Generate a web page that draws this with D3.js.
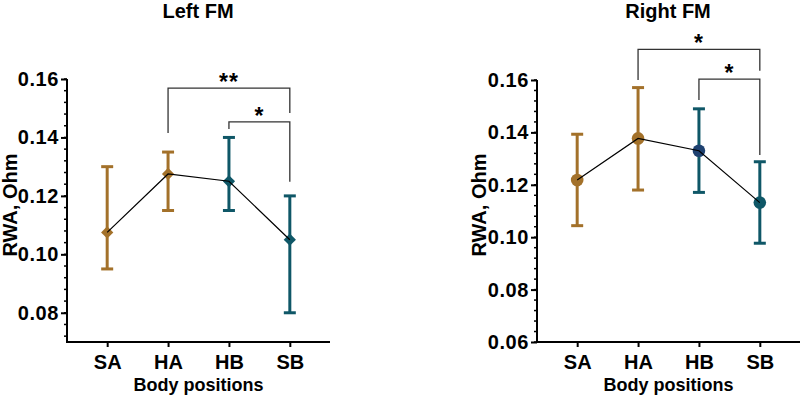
<!DOCTYPE html>
<html>
<head>
<meta charset="utf-8">
<script src="https://cdnjs.cloudflare.com/ajax/libs/d3/7.8.5/d3.min.js"></script>
<style>
  body { margin: 0; background: #fff; }
  svg text { font-family: "Liberation Sans", Arial, sans-serif; font-weight: bold; fill: #000; }
</style>
</head>
<body>
<div id="chart"></div>
<script>
// categories and values
const positions = ["SA", "HA", "HB", "SB"];

const leftMean  = [0.1075, 0.1275, 0.125, 0.105];
const leftUpper = [0.130, 0.135, 0.140, 0.120];
const leftLower = [0.095, 0.115, 0.115, 0.080];

const rightMean  = [0.1218, 0.1377, 0.133, 0.1132];
const rightUpper = [0.1393, 0.1571, 0.149, 0.1288];
const rightLower = [0.1044, 0.118, 0.1171, 0.0977];

const leftTicks  = [0.08, 0.10, 0.12, 0.14, 0.16];
const rightTicks = [0.06, 0.08, 0.10, 0.12, 0.14, 0.16];

// significance brackets: y levels in data units
const leftBrackets = [
  { from: "HA", to: "SB", y: 0.1569, footFrom: 0.1415, footTo: 0.1484, label: "**" },
  { from: "HB", to: "SB", y: 0.1453, footFrom: 0.1429, footTo: 0.1248, label: "*" }
];
const rightBrackets = [
  { from: "HA", to: "SB", y: 0.1717, footFrom: 0.160, footTo: 0.1635, label: "*" },
  { from: "HB", to: "SB", y: 0.1603, footFrom: 0.1524, footTo: 0.1314, label: "*" }
];

const gold = "#A3712A", teal = "#0F5767", navy = "#1E4170";
const barColors = [gold, gold, teal, teal];
const leftMarkColors = [gold, gold, teal, teal];
const rightMarkColors = [gold, gold, navy, teal];

const W = 800, H = 396;
const svg = d3.select("#chart").append("svg")
    .attr("width", W).attr("height", H);

function panel(opt) {
    const x = d3.scalePoint().domain(positions)
        .range([opt.x0, opt.x1]).padding(0.66);
    const y = d3.scaleLinear().domain(opt.domain).range([342, opt.top]);
    const g = svg.append("g");

    // title
    g.append("text")
        .attr("x", opt.titleX).attr("y", 18)
        .attr("text-anchor", "middle")
        .style("font-size", "20px")
        .text(opt.title);

    // minor ticks
    const minor = d3.range(Math.round(opt.domain[0] / 0.004), Math.round(opt.domain[1] / 0.004) + 1)
        .map(k => k * 0.004)
        .filter(v => v >= opt.domain[0] - 1e-9);
    g.selectAll(".minor").data(minor).enter().append("line")
        .attr("x1", opt.x0 - 3).attr("x2", opt.x0)
        .attr("y1", d => y(d)).attr("y2", d => y(d))
        .attr("stroke", "#000").attr("stroke-width", 1.5);

    // y axis
    const ya = g.append("g")
        .attr("transform", "translate(" + opt.x0 + ",0)")
        .call(d3.axisLeft(y).tickValues(opt.ticks).tickFormat(d3.format(".2f")).tickSize(6).tickPadding(2));
    ya.select(".domain").attr("stroke", "#000").attr("stroke-width", 2)
        .attr("d", "M0," + y(opt.domain[0]) + "V" + y(opt.domain[1]));
    ya.selectAll(".tick line").attr("stroke-width", 2);
    ya.selectAll(".tick text").style("font-size", "20px").style("letter-spacing", "0.6px")
        .style("font-family", "'Liberation Sans', Arial, sans-serif").style("font-weight", "bold");

    // x axis
    const xa = g.append("g")
        .attr("transform", "translate(0,342)")
        .call(d3.axisBottom(x).tickSize(5).tickPadding(8));
    xa.select(".domain").attr("stroke", "#000").attr("stroke-width", 2)
        .attr("d", "M" + (opt.x0 - 1) + ",0H" + opt.x1);
    xa.selectAll(".tick line").attr("stroke-width", 2);
    xa.selectAll(".tick text").style("font-size", "20px")
        .style("font-family", "'Liberation Sans', Arial, sans-serif").style("font-weight", "bold");

    // axis titles
    g.append("text")
        .attr("x", (opt.x0 + opt.x1) / 2).attr("y", 391)
        .attr("text-anchor", "middle")
        .style("font-size", "18px")
        .text("Body positions");
    g.append("text")
        .attr("transform", "translate(" + opt.ylabX + ",205) rotate(-90)")
        .attr("text-anchor", "middle")
        .style("font-size", "20px")
        .text("RWA, Ohm");

    // error bars
    const rows = positions.map((p, i) => ({ p, m: opt.mean[i], hi: opt.upper[i], lo: opt.lower[i], c: barColors[i], mc: opt.markColors[i] }));
    const eb = g.selectAll(".eb").data(rows).enter().append("g")
        .attr("stroke", d => d.c).attr("stroke-width", 3);
    eb.append("line")
        .attr("x1", d => x(d.p)).attr("x2", d => x(d.p))
        .attr("y1", d => y(d.hi)).attr("y2", d => y(d.lo));
    eb.append("line")
        .attr("x1", d => x(d.p) - 6).attr("x2", d => x(d.p) + 6)
        .attr("y1", d => y(d.hi)).attr("y2", d => y(d.hi));
    eb.append("line")
        .attr("x1", d => x(d.p) - 6).attr("x2", d => x(d.p) + 6)
        .attr("y1", d => y(d.lo)).attr("y2", d => y(d.lo));

    // markers
    const sym = d3.symbol().type(opt.shape).size(opt.shape === d3.symbolCircle ? 125 : 75);
    g.selectAll(".mk").data(rows).enter().append("path")
        .attr("d", sym)
        .attr("transform", d => "translate(" + x(d.p) + "," + y(d.m) + ")" + (opt.shape === d3.symbolSquare ? " rotate(45)" : ""))
        .attr("fill", d => d.mc);

    // connecting line
    g.append("path").datum(rows)
        .attr("d", d3.line().x(d => x(d.p)).y(d => y(d.m)))
        .attr("fill", "none").attr("stroke", "#000").attr("stroke-width", 1.2);

    // brackets
    opt.brackets.forEach(b => {
        g.append("path")
            .attr("d", "M" + x(b.from) + "," + y(b.footFrom) + "V" + y(b.y) + "H" + x(b.to) + "V" + y(b.footTo))
            .attr("fill", "none").attr("stroke", "#333").attr("stroke-width", 1.3);
        g.append("text")
            .attr("x", (x(b.from) + x(b.to)) / 2).attr("y", y(b.y) + 2)
            .attr("text-anchor", "middle")
            .style("font-size", "23px")
            .style("letter-spacing", "1px")
            .text(b.label);
    });
}

panel({
    title: "Left FM", titleX: 198, x0: 67, x1: 330, top: 79, ylabX: 17,
    domain: [0.07, 0.16], ticks: leftTicks,
    mean: leftMean, upper: leftUpper, lower: leftLower,
    markColors: leftMarkColors, shape: d3.symbolSquare, brackets: leftBrackets
});
panel({
    title: "Right FM", titleX: 668, x0: 537, x1: 800, top: 80, ylabX: 486,
    domain: [0.06, 0.16], ticks: rightTicks,
    mean: rightMean, upper: rightUpper, lower: rightLower,
    markColors: rightMarkColors, shape: d3.symbolCircle, brackets: rightBrackets
});
</script>
</body>
</html>
